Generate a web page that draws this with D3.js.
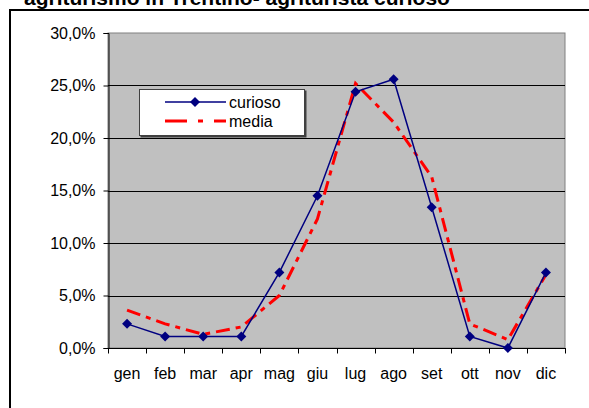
<!DOCTYPE html>
<html>
<head>
<meta charset="utf-8">
<script src="https://cdn.jsdelivr.net/npm/d3@7"></script>
<style>
  body { margin: 0; background: #fff; }
  svg { display: block; font-family: Arial, "Liberation Sans", sans-serif; }
</style>
</head>
<body>
<svg width="589" height="408"></svg>
<script>
// chart data
const months = ['gen', 'feb', 'mar', 'apr', 'mag', 'giu', 'lug', 'ago', 'set', 'ott', 'nov', 'dic'];
const curioso = [2.3, 1.1, 1.1, 1.1, 7.2, 14.5, 24.4, 25.6, 13.4, 1.1, 0.0, 7.2];
const media = [3.6, 2.3, 1.3, 2.0, 5.0, 12.3, 25.2, 21.5, 16.3, 2.3, 0.8, 7.0];
const yTicks = [0, 5, 10, 15, 20, 25, 30];
const seriesNames = ['curioso', 'media'];

const svg = d3.select('svg');

// outer chart frame (only top and left edges fall inside the picture)
svg.append('path')
  .attr('d', 'M10,420 V10 H600')
  .attr('fill', 'none')
  .attr('stroke', '#000')
  .attr('stroke-width', 2);

// title, cut off at the top like in the original
svg.append('text')
  .attr('x', 24)
  .attr('y', 5)
  .attr('font-size', 21)
  .attr('font-weight', 'bold')
  .text('agriturismo in Trentino- agriturista curioso');

const plotL = 108, plotR = 565, plotT = 33, plotB = 348;

const x = d3.scaleBand()
  .domain(months)
  .range([plotL, plotR]);

const y = d3.scaleLinear()
  .domain([0, 30])
  .range([plotB, plotT]);

// plot area
svg.append('rect')
  .attr('x', plotL)
  .attr('y', plotT)
  .attr('width', plotR - plotL)
  .attr('height', plotB - plotT)
  .attr('fill', '#c0c0c0')
  .attr('stroke', '#808080')
  .attr('stroke-width', 1);

// gridlines
svg.append('g')
  .selectAll('line')
  .data(yTicks.filter((d) => d > 0 && d < 30))
  .enter()
  .append('line')
  .attr('x1', plotL)
  .attr('x2', plotR)
  .attr('y1', (d) => Math.round(y(d)) + 0.5)
  .attr('y2', (d) => Math.round(y(d)) + 0.5)
  .attr('stroke', '#000')
  .attr('stroke-width', 1);

// y axis
const yAxis = d3.axisLeft(y)
  .tickValues(yTicks)
  .tickSize(5)
  .tickPadding(8)
  .tickFormat((d) => d.toFixed(1).replace('.', ',') + '%');

const gy = svg.append('g')
  .attr('transform', `translate(${plotL + 0.5},0)`)
  .call(yAxis);
gy.selectAll('text').attr('font-size', 16).attr('fill', '#000').attr('font-family', 'Arial, "Liberation Sans", sans-serif');
gy.selectAll('line, path').attr('stroke', '#000');

// x axis: ticks between the categories
const gx = svg.append('g')
  .attr('transform', `translate(0,${plotB + 0.5})`);
gx.append('line')
  .attr('x1', plotL)
  .attr('x2', plotR + 1)
  .attr('stroke', '#000');
gx.selectAll('.tick')
  .data(months.concat(['end']))
  .enter()
  .append('line')
  .attr('x1', (d, i) => Math.round(plotL + i * x.bandwidth()) + 0.5)
  .attr('x2', (d, i) => Math.round(plotL + i * x.bandwidth()) + 0.5)
  .attr('y1', 0)
  .attr('y2', 5)
  .attr('stroke', '#000');
gx.selectAll('text')
  .data(months)
  .enter()
  .append('text')
  .attr('x', (d) => x(d) + x.bandwidth() / 2)
  .attr('y', 30)
  .attr('text-anchor', 'middle')
  .attr('font-size', 16)
  .text((d) => d);

const line = d3.line()
  .x((d, i) => x(months[i]) + x.bandwidth() / 2)
  .y((d) => y(d));

// media series
svg.append('path')
  .datum(media)
  .attr('d', line)
  .attr('fill', 'none')
  .attr('stroke', '#ff0000')
  .attr('stroke-width', 3)
  .attr('stroke-dasharray', '14,6,5,6');

// curioso series
svg.append('path')
  .datum(curioso)
  .attr('d', line)
  .attr('fill', 'none')
  .attr('stroke', '#000080')
  .attr('stroke-width', 1.5);

const diamond = d3.symbol().type(d3.symbolSquare).size(50);

svg.append('g')
  .selectAll('path')
  .data(curioso)
  .enter()
  .append('path')
  .attr('d', diamond)
  .attr('transform', (d, i) => `translate(${x(months[i]) + x.bandwidth() / 2},${y(d)}) rotate(45)`)
  .attr('fill', '#000080');

// legend
const legend = svg.append('g').attr('transform', 'translate(139,89)');
legend.append('rect')
  .attr('x', 1.5)
  .attr('y', 1.5)
  .attr('width', 166)
  .attr('height', 47)
  .attr('fill', '#404040');
legend.append('rect')
  .attr('x', 0.5)
  .attr('y', 0.5)
  .attr('width', 165)
  .attr('height', 46)
  .attr('fill', '#fff')
  .attr('stroke', '#404040');

const rows = legend.selectAll('.row')
  .data(seriesNames)
  .enter()
  .append('g')
  .attr('transform', (d, i) => `translate(0,${13 + i * 19})`);

rows.append('line')
  .attr('x1', 26)
  .attr('x2', 87)
  .attr('stroke', (d) => (d === 'curioso' ? '#000080' : '#ff0000'))
  .attr('stroke-width', (d) => (d === 'curioso' ? 1.5 : 3))
  .attr('stroke-dasharray', (d) => (d === 'curioso' ? null : '22,11,5,11'));

legend.append('path')
  .attr('d', diamond)
  .attr('transform', 'translate(56,13) rotate(45)')
  .attr('fill', '#000080');

rows.append('text')
  .attr('x', 90)
  .attr('y', 6)
  .attr('font-size', 16)
  .text((d) => d);
</script>
</body>
</html>
